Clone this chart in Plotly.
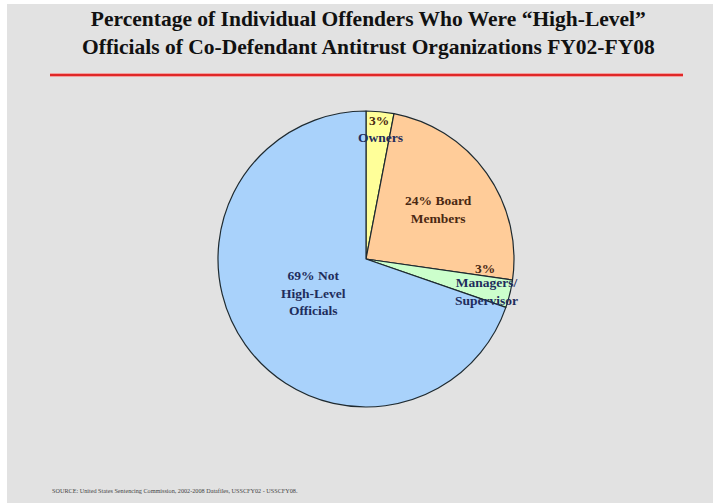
import plotly.graph_objects as go

categories = ["Owners", "Board Members", "Managers/Supervisor", "Not High-Level Officials"]
values = [3, 24, 3, 69]
colors = ["#ffff99", "#ffcc99", "#ccffcc", "#a9d2fb"]

title_lines = ["Percentage of Individual Offenders Who Were \u201cHigh-Level\u201d",
               "Officials of Co-Defendant Antitrust Organizations FY02-FY08"]
source_text = "SOURCE: United States Sentencing Commission, 2002-2008 Datafiles, USSCFY02 - USSCFY08."

W, H = 713, 503
cx, cy, r = 366, 259, 148

fig = go.Figure(go.Pie(
    labels=categories, values=values, sort=False, direction="clockwise",
    rotation=0, marker=dict(colors=colors, line=dict(color="#1e2a30", width=1.2)),
    textinfo="none", hoverinfo="label+percent", showlegend=False,
    domain=dict(x=[(cx - r) / W, (cx + r) / W], y=[(H - cy - r) / H, (H - cy + r) / H]),
))

def px(x, y):
    return x / W, 1 - y / H

annots = []
def add(text, x, y, color, size=13.5):
    ax, ay = px(x, y)
    annots.append(dict(text=text, x=ax, y=ay, xref="paper", yref="paper", showarrow=False,
                       font=dict(family="Liberation Serif", size=size, color=color),
                       xanchor="center", yanchor="middle"))

navy = "#1f2d5c"
brown = "#4a2812"
add("<b>3%</b>", 379, 121, brown)
add("<b>Owners</b>", 380, 137, navy)
add("<b>24% Board<br>Members</b>", 438, 209, brown)
add("<b>3%</b>", 485, 268, brown)
add("<b>Managers/<br>Supervisor</b>", 486, 291, navy)
add("<b>69% Not<br>High-Level<br>Officials</b>", 313, 293, navy)

tx, ty = px(368, 33)
annots.append(dict(text="<b>" + title_lines[0] + "<br>" + title_lines[1] + "</b>", x=tx, y=ty,
                   xref="paper", yref="paper", showarrow=False,
                   font=dict(family="Liberation Serif", size=21.5, color="#111111"),
                   xanchor="center", yanchor="middle"))
sx, sy = px(50, 490)
annots.append(dict(text=source_text, x=sx, y=sy, xref="paper", yref="paper", showarrow=False,
                   font=dict(family="Liberation Serif", size=6.2, color="#444444"),
                   xanchor="left", yanchor="middle"))

shapes = [
    dict(type="rect", xref="paper", yref="paper", x0=7 / W, x1=1, y0=0, y1=1 - 4 / H,
         fillcolor="#e2e2e2", line=dict(width=0), layer="below"),
    dict(type="line", xref="paper", yref="paper", x0=50 / W, x1=683 / W, y0=1 - 75 / H, y1=1 - 75 / H,
         line=dict(color="#f2a0a0", width=4), layer="below"),
    dict(type="line", xref="paper", yref="paper", x0=50 / W, x1=683 / W, y0=1 - 75 / H, y1=1 - 75 / H,
         line=dict(color="#e02828", width=2), layer="below"),
]

fig.update_layout(width=W, height=H, margin=dict(l=0, r=0, t=0, b=0),
                  paper_bgcolor="#ffffff", plot_bgcolor="#e2e2e2",
                  annotations=annots, shapes=shapes)

fig.write_html("out.html")
